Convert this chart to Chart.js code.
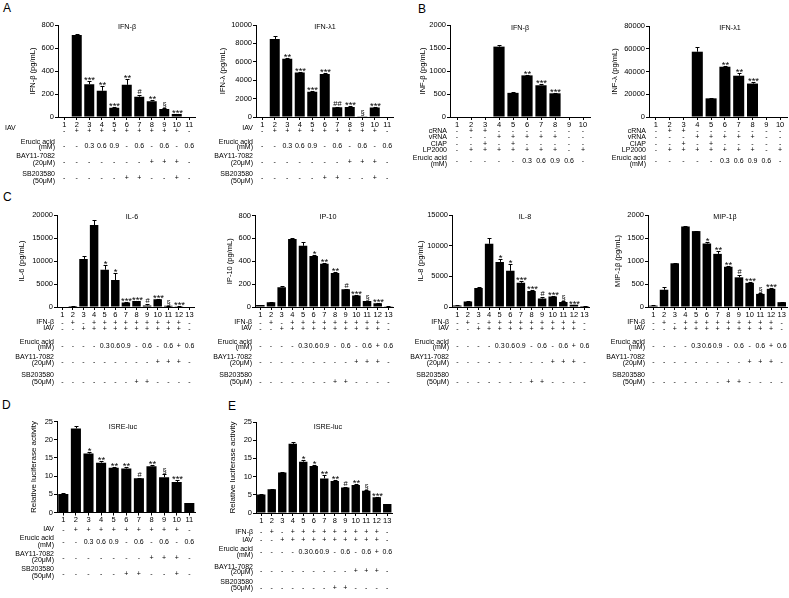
<!DOCTYPE html>
<html><head><meta charset="utf-8">
<script src="https://cdn.jsdelivr.net/npm/chart.js@4.4.1/dist/chart.umd.min.js"></script>
<style>
body{margin:0;background:#fff;}
#wrap{position:relative;width:789px;height:598px;overflow:hidden;background:#fff;}
#wrap canvas{position:absolute;left:0;top:0;}
.lt{position:absolute;font:12px "Liberation Sans",Arial,sans-serif;color:#000;line-height:12px;}
</style>
</head><body>
<div id="wrap">
<div class="lt" style="left:3px;top:2px">A</div>
<div class="lt" style="left:418px;top:3px">B</div>
<div class="lt" style="left:3px;top:191px">C</div>
<div class="lt" style="left:2px;top:399px">D</div>
<div class="lt" style="left:228px;top:400px">E</div>
</div>
<script>
// ---------- categories ----------
const cats10 = ['1','2','3','4','5','6','7','8','9','10'];
const cats11 = ['1','2','3','4','5','6','7','8','9','10','11'];
const cats13 = ['1','2','3','4','5','6','7','8','9','10','11','12','13'];

// ---------- condition rows: panels A and D (11 lanes) ----------
const iav11    = ['-','+','+','+','+','+','+','+','+','+','-'];
const erucic11 = ['-','-','0.3','0.6','0.9','-','0.6','-','0.6','-','0.6'];
const bay11    = ['-','-','-','-','-','-','-','+','+','+','-'];
const sb11     = ['-','-','-','-','-','+','+','-','-','+','-'];

// ---------- condition rows: panel B (10 lanes) ----------
const crna10   = ['-','+','+','-','-','-','-','-','-','-'];
const vrna10   = ['-','-','-','+','+','+','+','+','-','-'];
const ciap10   = ['-','-','+','-','+','-','-','-','-','-'];
const lp10     = ['-','+','+','+','+','+','+','+','-','+'];
const erucic10 = ['-','-','-','-','-','0.3','0.6','0.9','0.6','-'];

// ---------- condition rows: panels C and E (13 lanes) ----------
const ifnb13   = ['-','+','-','+','+','+','+','+','+','+','+','+','-'];
const iav13    = ['-','-','+','+','+','+','+','+','+','+','+','+','-'];
const erucic13 = ['-','-','-','-','0.3','0.6','0.9','-','0.6','-','0.6','+','0.6'];
const bay13    = ['-','-','-','-','-','-','-','-','-','+','+','+','-'];
const sb13     = ['-','-','-','-','-','-','-','+','+','-','-','-','-'];

// ---------- Panel A ----------
const aIfnbVals = [0,712,285,228,80,280,177,138,70,26,0];
const aIfnbErr  = [0,12,28,42,10,48,18,6,6,3,0];
const aIfnbSig  = ['','','***','**','***','**','#','**','§','***',''];
const aIfnlVals = [0,8480,6320,4830,2750,4680,1070,1100,80,1020,0];
const aIfnlErr  = [0,300,120,100,80,100,50,50,0,50,0];
const aIfnlSig  = ['','','**','***','***','***','##','***','§','***',''];

// ---------- Panel B ----------
const bIfnbVals = [0,0,0,1530,525,905,690,515,0,0];
const bIfnbErr  = [0,0,0,30,8,15,25,12,0,0];
const bIfnbSig  = ['','','','','','**','***','***','',''];
const bIfnlVals = [0,0,0,57400,16400,44200,36300,29400,0,0];
const bIfnlErr  = [0,0,0,3800,400,1000,2200,1000,0,0];
const bIfnlSig  = ['','','','','','**','**','***','',''];

// ---------- Panel C ----------
const cIl6Vals  = [0,200,10450,17800,8100,5850,1000,1300,350,1700,250,180,0];
const cIl6Err   = [0,30,600,1100,1000,1600,60,80,350,120,40,30,0];
const cIl6Sig   = ['','','','','*','*','***','***','#','***','§','***',''];
const cIp10Vals = [17,42,172,595,535,445,378,298,155,100,52,33,6];
const cIp10Err  = [3,3,8,12,35,8,8,8,6,8,4,3,1];
const cIp10Sig  = ['','','','','','*','**','**','#','***','§','***',''];
const cIl8Vals  = [250,880,3080,10300,7350,5900,3950,2600,1400,1700,800,350,150];
const cIl8Err   = [30,40,100,900,400,1100,300,100,150,100,100,50,20];
const cIl8Sig   = ['','','','','*','*','***','***','#','***','§','***',''];
const cMipVals  = [30,375,950,1750,1650,1380,1155,875,645,525,285,395,105];
const cMipErr   = [5,55,10,10,10,30,55,20,45,15,10,10,3];
const cMipSig   = ['','','','','','*','**','**','#','***','§','***',''];

// ---------- Panel D ----------
const dVals = [5.1,23.1,16.2,13.7,12.3,12.1,9.4,12.7,9.7,8.4,2.6];
const dErr  = [0.2,0.6,0.5,0.5,0.3,0.3,0.2,0.3,0.8,0.4,0];
const dSig  = ['','','*','**','**','**','#','**','§','***',''];

// ---------- Panel E ----------
const eVals = [5.1,6.5,11.1,19,14.1,12.9,9.5,8.8,7,7.7,6.1,4.3,2.5];
const eErr  = [0.1,0.2,0.3,0.5,0.4,0.4,0.9,0.3,0.2,0.3,0.2,0.2,0];
const eSig  = ['','','','','*','*','**','**','#','**','§','***',''];

const FONT = '"Liberation Sans", Arial, sans-serif';
Chart.defaults.font.family = FONT;
Chart.defaults.color = '#000';
const W = 789, H = 598, YW = 30, XH = 12;
const wrap = document.getElementById('wrap');

function makeChart(spec, idx) {
  const cv = document.createElement('canvas');
  cv.width = W; cv.height = H;
  cv.style.width = W + 'px'; cv.style.height = H + 'px';
  wrap.appendChild(cv);
  const right = spec.axisX + spec.n * spec.s;
  const deco = {
    id: 'deco' + idx,
    afterDatasetsDraw(chart) {
      const ctx = chart.ctx, ys = chart.scales.y;
      const meta = chart.getDatasetMeta(0);
      ctx.save();
      ctx.strokeStyle = '#000'; ctx.lineWidth = 1; ctx.fillStyle = '#000';
      spec.vals.forEach((v, i) => {
        const x = Math.round(meta.data[i].x) + 0.5;
        const e = spec.err[i];
        const yv = ys.getPixelForValue(v);
        const yt = Math.round(ys.getPixelForValue(v + e)) + 0.5;
        if (e > 0) {
          ctx.beginPath();
          ctx.moveTo(x, yv); ctx.lineTo(x, yt);
          ctx.moveTo(x - 2, yt); ctx.lineTo(x + 2, yt);
          ctx.stroke();
        }
        const s = spec.sig[i];
        if (s) {
          ctx.textAlign = 'center'; ctx.textBaseline = 'alphabetic';
          const star = s.indexOf('*') >= 0;
          ctx.font = (star ? '9.5px ' : '7.5px ') + FONT;
          ctx.fillText(s, x, star ? yt + 1.5 : yt - 2);
        }
      });
      ctx.restore();
    },
    afterDraw(chart) {
      const ctx = chart.ctx, xs = chart.scales.x;
      ctx.save();
      ctx.fillStyle = '#000';
      // title
      ctx.font = '7.2px ' + FONT;
      ctx.textAlign = 'center'; ctx.textBaseline = 'middle';
      ctx.fillText(spec.title, spec.titleX, spec.titleY);
      // y title
      ctx.save();
      ctx.translate(spec.ytX, (spec.top + spec.zero) / 2);
      ctx.rotate(-Math.PI / 2);
      ctx.font = spec.ytSize + 'px ' + FONT;
      ctx.fillText(spec.ytitle, 0, 0);
      ctx.restore();
      // condition rows
      ctx.font = '7px ' + FONT;
      spec.rows.forEach(r => {
        if (r.lx !== undefined) {
          ctx.textAlign = 'left';
          r.t.forEach((line, k) => ctx.fillText(line, r.lx, r.ly[k]));
        } else {
          ctx.textAlign = 'right';
          r.t.forEach((line, k) => ctx.fillText(line, spec.axisX - 3, r.ly[k]));
        }
        ctx.textAlign = 'center';
        r.v.forEach((val, i) => ctx.fillText(val, xs.getPixelForValue(i), r.vy));
      });
      ctx.restore();
    }
  };
  new Chart(cv.getContext('2d'), {
    type: 'bar',
    data: { labels: spec.cats, datasets: [{ data: spec.vals, backgroundColor: '#000', borderWidth: 0, barPercentage: 0.8, categoryPercentage: 1 }] },
    options: {
      responsive: false, animation: false, events: [], devicePixelRatio: 1,
      layout: { padding: { left: spec.axisX - YW, top: spec.top, right: W - right, bottom: H - spec.zero - XH } },
      plugins: { legend: { display: false }, tooltip: { enabled: false } },
      scales: {
        x: {
          type: 'category', offset: true,
          grid: { display: true, offset: false, drawOnChartArea: false, tickLength: 3, color: '#000', tickColor: '#000' },
          border: { color: '#000', width: 1 },
          ticks: { padding: 0, color: '#000', font: { size: 7.5 }, autoSkip: false, maxRotation: 0 },
          afterFit(s) { s.height = XH; }
        },
        y: {
          min: 0, max: spec.max,
          grid: { drawOnChartArea: false, tickLength: 3, color: '#000', tickColor: '#000' },
          border: { color: '#000', width: 1 },
          ticks: { stepSize: spec.step, padding: 1, color: '#000', font: { size: 7.5 }, callback: v => String(v) },
          afterFit(s) { s.width = YW; }
        }
      }
    },
    plugins: [deco]
  });
}

// row layouts (text positions)
function rowsA(v, iavLeft) { return [
  { t: ['IAV'], ly: [128], v: v[0], vy: 131.5, lx: iavLeft },
  { t: ['Erucic acid', '(mM)'], ly: [141.7, 147], v: v[1], vy: 145.7 },
  { t: ['BAY11-7082', '(20μM)'], ly: [156, 163.5], v: v[2], vy: 161.7 },
  { t: ['SB203580', '(50μM)'], ly: [174, 181.5], v: v[3], vy: 178.3 } ]; }
const rowsB = [
  { t: ['cRNA'], ly: [131.5], v: crna10, vy: 131.5 },
  { t: ['vRNA'], ly: [137.5], v: vrna10, vy: 137.5 },
  { t: ['CIAP'], ly: [144], v: ciap10, vy: 144 },
  { t: ['LP2000'], ly: [150.5], v: lp10, vy: 150.5 },
  { t: ['Erucic acid', '(mM)'], ly: [158, 164.5], v: erucic10, vy: 161 } ];
const rowsC = [
  { t: ['IFN-β'], ly: [322.3], v: ifnb13, vy: 323 },
  { t: ['IAV'], ly: [328.3], v: iav13, vy: 329.3 },
  { t: ['Erucic acid', '(mM)'], ly: [341.7, 347], v: erucic13, vy: 345.7 },
  { t: ['BAY11-7082', '(20μM)'], ly: [356.7, 363.3], v: bay13, vy: 362.3 },
  { t: ['SB203580', '(50μM)'], ly: [375, 381.7], v: sb13, vy: 382 } ];
const rowsD = [
  { t: ['IAV'], ly: [529.3], v: iav11, vy: 530.5 },
  { t: ['Erucic acid', '(mM)'], ly: [538.3, 545], v: erucic11, vy: 541.7 },
  { t: ['BAY11-7082', '(20μM)'], ly: [554.3, 560.5], v: bay11, vy: 558.3 },
  { t: ['SB203580', '(50μM)'], ly: [569.3, 576], v: sb11, vy: 574.3 } ];
const rowsE = [
  { t: ['IFN-β'], ly: [531.7], v: ifnb13, vy: 532 },
  { t: ['IAV'], ly: [540], v: iav13, vy: 540.5 },
  { t: ['Erucic acid', '(mM)'], ly: [549.3, 555.5], v: erucic13, vy: 551.7 },
  { t: ['BAY11-7082', '(20μM)'], ly: [566.7, 572.5], v: bay13, vy: 571 },
  { t: ['SB203580', '(50μM)'], ly: [581.7, 588.3], v: sb13, vy: 587.7 } ];

const A4 = [iav11, erucic11, bay11, sb11];

makeChart({ cats: cats11, vals: aIfnbVals, err: aIfnbErr, sig: aIfnbSig, axisX: 58, s: 12.5, n: 11, top: 25, zero: 117, max: 800, step: 200,
  title: 'IFN-β', titleX: 127, titleY: 27, ytitle: 'IFN-β (pg/mL)', ytX: 33, ytSize: 7.5, rows: rowsA(A4, 5) }, 0);
makeChart({ cats: cats11, vals: aIfnlVals, err: aIfnlErr, sig: aIfnlSig, axisX: 256, s: 12.5, n: 11, top: 25, zero: 117, max: 10000, step: 2000,
  title: 'IFN-λ1', titleX: 325, titleY: 27, ytitle: 'IFN-λ (pg/mL)', ytX: 223, ytSize: 7.5, rows: rowsA(A4) }, 1);
makeChart({ cats: cats10, vals: bIfnbVals, err: bIfnbErr, sig: bIfnbSig, axisX: 450, s: 14, n: 10, top: 25, zero: 117, max: 2000, step: 500,
  title: 'IFN-β', titleX: 520, titleY: 28, ytitle: 'INF-β (pg/mL)', ytX: 423, ytSize: 7.5, rows: rowsB }, 2);
makeChart({ cats: cats10, vals: bIfnlVals, err: bIfnlErr, sig: bIfnlSig, axisX: 649, s: 13.8, n: 10, top: 26, zero: 117, max: 80000, step: 20000,
  title: 'IFN-λ1', titleX: 730, titleY: 28, ytitle: 'INF-λ (pg/mL)', ytX: 615, ytSize: 7.5, rows: rowsB }, 3);
makeChart({ cats: cats13, vals: cIl6Vals, err: cIl6Err, sig: cIl6Sig, axisX: 57, s: 10.6, n: 13, top: 215, zero: 307, max: 20000, step: 5000,
  title: 'IL-6', titleX: 132, titleY: 217, ytitle: 'IL-6 (pg/mL)', ytX: 22, ytSize: 7.5, rows: rowsC }, 4);
makeChart({ cats: cats13, vals: cIp10Vals, err: cIp10Err, sig: cIp10Sig, axisX: 255, s: 10.67, n: 13, top: 215.5, zero: 307, max: 800, step: 200,
  title: 'IP-10', titleX: 328, titleY: 217, ytitle: 'IP-10 (pg/mL)', ytX: 230, ytSize: 7.5, rows: rowsC }, 5);
makeChart({ cats: cats13, vals: cIl8Vals, err: cIl8Err, sig: cIl8Sig, axisX: 452, s: 10.6, n: 13, top: 215, zero: 307, max: 15000, step: 5000,
  title: 'IL-8', titleX: 525, titleY: 217, ytitle: 'IL-8 (pg/mL)', ytX: 421, ytSize: 7.5, rows: rowsC }, 6);
makeChart({ cats: cats13, vals: cMipVals, err: cMipErr, sig: cMipSig, axisX: 648, s: 10.7, n: 13, top: 215, zero: 307, max: 2000, step: 500,
  title: 'MIP-1β', titleX: 725, titleY: 217, ytitle: 'MIP-1β (pg/mL)', ytX: 618, ytSize: 7.5, rows: rowsC }, 7);
makeChart({ cats: cats11, vals: dVals, err: dErr, sig: dSig, axisX: 57, s: 12.6, n: 11, top: 421.5, zero: 512.5, max: 25, step: 5,
  title: 'ISRE-luc', titleX: 123, titleY: 427, ytitle: 'Relative luciferase activity', ytX: 34, ytSize: 8, rows: rowsD }, 8);
makeChart({ cats: cats13, vals: eVals, err: eErr, sig: eSig, axisX: 256, s: 10.5, n: 13, top: 422, zero: 513, max: 25, step: 5,
  title: 'ISRE-luc', titleX: 328, titleY: 427, ytitle: 'Relative luciferase activity', ytX: 233, ytSize: 8, rows: rowsE }, 9);
</script>
</body></html>
